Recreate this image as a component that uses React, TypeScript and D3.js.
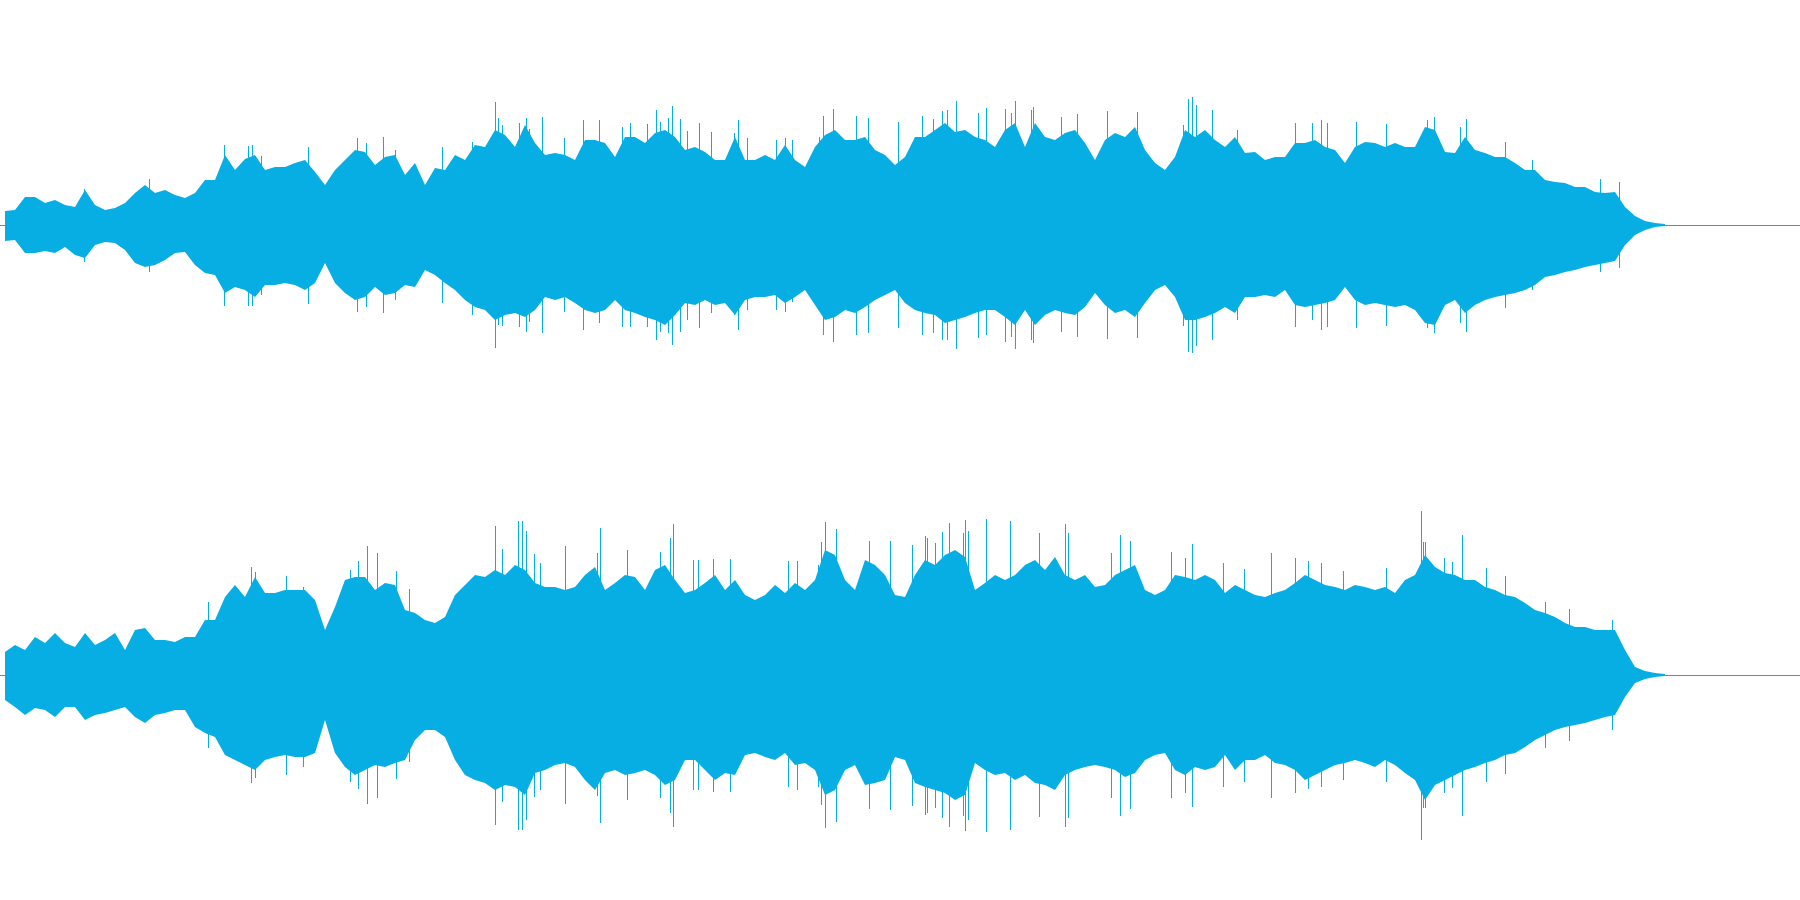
import React from "react";
import * as d3 from "d3";

// Waveform envelopes, one value per frame (frame 0..166), amplitude in levels (full scale = 225)
const ch1Pos = [
  14, 15, 28, 28, 22, 25, 20, 18, 35, 20, 15, 17, 22, 32, 40, 32, 35, 30, 27, 32,
  45, 45, 70, 55, 66, 70, 55, 58, 58, 62, 65, 53, 40, 55, 65, 75, 73, 60, 68, 70, 50,
  62, 40, 57, 55, 70, 65, 80, 78, 95, 90, 78, 100, 82, 70, 72, 70, 65, 85, 85, 82,
  68, 88, 88, 82, 92, 95, 88, 75, 78, 73, 65, 65, 88, 65, 65, 70, 65, 80, 65, 58, 78,
  90, 95, 85, 85, 88, 75, 70, 60, 68, 88, 88, 95, 102, 93, 95, 88, 85, 78, 95, 102,
  78, 102, 88, 85, 92, 95, 82, 65, 85, 92, 88, 98, 75, 62, 55, 68, 95, 88, 95, 85, 78,
  88, 72, 73, 65, 68, 68, 82, 82, 85, 78, 75, 62, 78, 83, 82, 78, 82, 78, 78, 98,
  95, 73, 72, 88, 75, 72, 68, 68, 62, 55, 55, 45, 43, 42, 38, 38, 33, 32, 33, 18,
  9, 4, 2, 1,
];
const ch1Neg = [
  16, 15, 28, 28, 26, 28, 22, 30, 33, 20, 17, 18, 25, 38, 42, 40, 35, 28, 27, 40,
  48, 50, 68, 62, 65, 72, 60, 60, 58, 60, 65, 58, 38, 58, 68, 75, 72, 62, 70, 68, 60,
  62, 45, 50, 58, 65, 75, 82, 85, 95, 90, 88, 92, 85, 72, 75, 72, 78, 85, 88, 85,
  75, 85, 88, 92, 95, 100, 90, 78, 80, 75, 80, 78, 90, 75, 72, 72, 70, 78, 72, 65, 80,
  95, 92, 85, 88, 82, 75, 70, 65, 78, 85, 88, 90, 98, 95, 92, 88, 85, 85, 92, 100,
  85, 100, 90, 85, 88, 90, 82, 68, 80, 88, 85, 92, 78, 65, 60, 72, 95, 95, 92, 88, 82,
  88, 72, 72, 70, 72, 65, 80, 82, 80, 78, 75, 62, 75, 80, 78, 80, 82, 80, 85, 98,
  100, 80, 75, 88, 80, 75, 72, 70, 68, 65, 60, 52, 50, 47, 45, 42, 40, 38, 36, 20,
  10, 5, 2, 1,
];
const ch2Pos = [
  23, 30, 25, 38, 32, 42, 32, 28, 42, 30, 35, 42, 25, 45, 47, 35, 35, 33, 38, 38,
  55, 55, 78, 90, 78, 98, 82, 82, 85, 85, 85, 75, 45, 68, 95, 98, 98, 85, 92, 90, 65,
  62, 55, 52, 58, 80, 90, 100, 98, 105, 100, 110, 105, 92, 88, 88, 85, 88, 100, 108, 85,
  92, 100, 98, 85, 105, 110, 95, 82, 85, 92, 100, 85, 95, 80, 75, 80, 90, 82, 92, 85, 95,
  125, 120, 95, 85, 115, 110, 100, 80, 78, 100, 115, 110, 120, 125, 118, 85, 92, 100, 95, 100,
  110, 115, 105, 118, 100, 95, 100, 88, 90, 100, 105, 110, 85, 80, 85, 100, 98, 95, 100, 95, 82,
  90, 85, 80, 78, 82, 85, 92, 100, 95, 90, 88, 85, 90, 88, 85, 88, 82, 95, 100, 120,
  108, 102, 100, 95, 95, 88, 85, 80, 78, 72, 65, 62, 58, 52, 48, 48, 45, 45, 45, 25,
  8, 4, 2, 1,
];
const ch2Neg = [
  25, 32, 40, 33, 35, 42, 32, 32, 45, 40, 38, 35, 32, 42, 48, 40, 38, 35, 35, 52,
  58, 62, 80, 85, 90, 95, 85, 82, 80, 82, 82, 78, 45, 78, 92, 100, 95, 90, 92, 88, 85,
  65, 55, 55, 62, 85, 100, 105, 108, 115, 110, 112, 120, 98, 95, 90, 88, 92, 105, 115, 98,
  95, 100, 98, 95, 100, 110, 105, 85, 85, 95, 105, 98, 100, 80, 78, 82, 85, 78, 90, 88, 95,
  120, 115, 95, 90, 110, 108, 105, 82, 85, 108, 112, 115, 118, 125, 120, 88, 95, 100, 98, 105,
  100, 108, 110, 115, 100, 95, 92, 90, 92, 95, 102, 98, 85, 80, 78, 95, 100, 92, 95, 92, 80,
  95, 85, 85, 80, 88, 90, 95, 105, 100, 95, 90, 88, 85, 88, 92, 85, 90, 98, 105, 125,
  110, 105, 100, 95, 92, 88, 85, 80, 78, 72, 65, 60, 55, 52, 50, 48, 45, 42, 40, 22,
  8, 4, 2, 1,
];

// Isolated peaks: [frame, positive level, negative level]
const ch1Spikes: [number, number, number][] = [
  [7.9, 36, 37], [14.4, 46, 47], [21.9, 80, 81], [24.3, 79, 81], [24.7, 80, 81], [25.6, 69, 70],
  [30.3, 78, 79], [35.2, 87, 87], [36.1, 82, 82], [37.8, 88, 88], [39.0, 75, 75],
  [43.7, 78, 78], [46.7, 83, 90], [49.0, 123, 123], [49.3, 107, 100], [49.7, 100, 101],
  [51.4, 102, 102], [52.1, 107, 107], [52.4, 96, 97], [53.7, 108, 108], [55.9, 87, 87],
  [57.8, 105, 105], [59.4, 105, 98], [61.7, 98, 102], [62.5, 102, 102], [64.2, 101, 102],
  [65.1, 115, 115], [65.5, 103, 107], [66.3, 107, 108], [66.7, 119, 120], [67.5, 106, 107],
  [68.2, 94, 95], [69.4, 102, 103], [70.6, 93, 88], [72.9, 92, 90], [73.3, 105, 105],
  [74.2, 87, 85], [77.1, 85, 85], [78.0, 87, 87], [78.7, 85, 77], [81.4, 88, 84],
  [81.8, 109, 110], [82.8, 116, 117], [85.1, 109, 110], [86.3, 107, 108], [89.3, 103, 103],
  [91.7, 109, 110], [92.8, 106, 108], [93.7, 114, 115], [94.2, 115, 115], [95.1, 124, 124],
  [97.3, 112, 113], [98.1, 117, 110], [100.0, 116, 117], [100.6, 112, 112], [101.0, 124, 124],
  [102.6, 115, 115], [102.8, 118, 118], [105.6, 108, 107], [107.2, 111, 112], [110.2, 114, 114],
  [113.2, 113, 113], [117.8, 100, 101], [118.3, 126, 127], [118.7, 128, 128], [119.1, 120, 121],
  [120.7, 115, 115], [123.2, 95, 95], [129.0, 102, 102], [130.7, 102, 95], [131.6, 105, 105],
  [132.2, 102, 102], [135.1, 103, 103], [138.1, 101, 101], [142.2, 105, 103], [142.9, 108, 108],
  [145.5, 98, 98], [146.1, 106, 107], [150.0, 83, 83], [152.7, 65, 65], [159.5, 46, 47],
  [161.4, 43, 43],
];
const ch2Spikes: [number, number, number][] = [
  [20.3, 73, 73], [24.6, 108, 108], [25.0, 103, 103], [28.1, 99, 100], [29.8, 88, 92],
  [34.5, 105, 107], [35.3, 114, 114], [36.2, 129, 129], [37.2, 122, 123], [39.1, 104, 104],
  [40.4, 86, 87], [49.0, 149, 150], [49.7, 126, 127], [51.3, 154, 155], [51.7, 154, 155],
  [52.1, 144, 145], [52.9, 121, 122], [53.5, 112, 115], [56.0, 129, 129], [59.2, 122, 121],
  [59.5, 147, 148], [62.2, 125, 125], [65.5, 123, 123], [66.5, 137, 138], [66.8, 151, 152],
  [68.8, 115, 115], [69.3, 115, 115], [70.8, 116, 117], [72.5, 116, 117], [78.3, 114, 112],
  [79.2, 114, 115], [81.3, 110, 112], [81.6, 133, 130], [82.0, 153, 153], [83.1, 146, 147],
  [86.4, 134, 134], [88.5, 134, 135], [90.7, 130, 131], [92.0, 139, 140], [92.2, 137, 138],
  [93.0, 132, 133], [93.7, 143, 143], [94.4, 152, 152], [95.8, 142, 141], [96.0, 155, 156],
  [96.3, 144, 145], [98.1, 156, 157], [100.5, 154, 155], [103.4, 142, 142], [106.0, 151, 152],
  [106.3, 142, 143], [110.6, 122, 123], [111.5, 140, 141], [112.5, 134, 134], [116.6, 123, 123],
  [118.0, 117, 118], [118.7, 131, 132], [121.8, 112, 112], [123.9, 106, 107], [126.6, 122, 123],
  [129.0, 117, 118], [130.3, 114, 114], [131.6, 112, 112], [133.8, 104, 105], [138.1, 107, 107],
  [141.6, 164, 165], [141.8, 133, 133], [142.0, 133, 133], [143.9, 117, 118], [144.7, 113, 113],
  [145.7, 140, 141], [148.1, 107, 107], [150.0, 99, 99], [154.0, 73, 73], [156.4, 66, 66],
  [160.7, 55, 55],
];

const W = 1800;
const H = 900;
const COLOR = "#07aee3";
const FULL = 225;

function Channel({ pos, neg, spikes, index }: { pos: number[]; neg: number[]; spikes: [number, number, number][]; index: number }) {
  const x = d3.scaleLinear().domain([0, pos.length - 1]).range([5, 1665]);
  const top = index * (H / 2);
  const y = d3.scaleLinear().domain([-FULL, FULL]).range([top + H / 2, top]);
  const area = d3
    .area<number>()
    .x((_, i) => x(i))
    .y0((_, i) => y(-neg[i]))
    .y1((d) => y(d))
    .curve(d3.curveLinear);
  return (
    <g>
      <rect x={0} y={y(0)} width={W} height={1} fill={COLOR} shapeRendering="crispEdges" />
      <path d={area(pos) ?? ""} fill={COLOR} />
      <g shapeRendering="crispEdges">
        {spikes.map(([f, p, n], i) => (
          <rect key={i} x={Math.round(x(f))} y={y(p)} width={1} height={y(-n) - y(p)} fill={COLOR} />
        ))}
      </g>
    </g>
  );
}

export default function App() {
  return (
    <div style={{ position: "fixed", left: 0, top: 0, width: W, height: H, background: "#fff" }}>
      <svg width={W} height={H} style={{ display: "block" }}>
        <rect width={W} height={H} fill="#fff" />
        <Channel pos={ch1Pos} neg={ch1Neg} spikes={ch1Spikes} index={0} />
        <Channel pos={ch2Pos} neg={ch2Neg} spikes={ch2Spikes} index={1} />
      </svg>
    </div>
  );
}
